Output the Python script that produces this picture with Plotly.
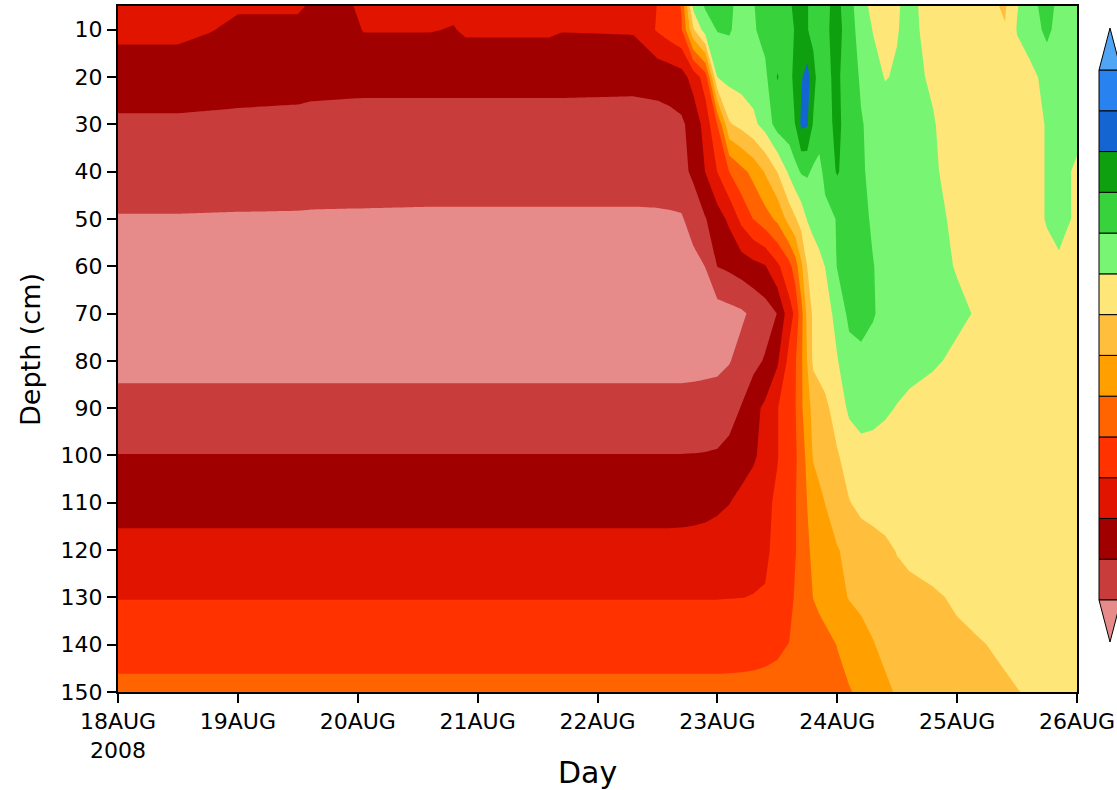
import pandas as pd
import plotly.graph_objects as go

# ---- sampling grid -------------------------------------------------------
# time of each profile, in days after 18 Aug 2008 00Z
day_offsets = [0.0, 0.5, 0.75, 1.0, 1.5, 1.6, 1.95, 2.05, 2.6, 2.8, 2.9, 3.6, 3.7, 4.3,
               4.5, 4.6, 4.7, 4.8, 4.9, 5.0, 5.1, 5.2, 5.3, 5.4, 5.5, 5.6, 5.65, 5.7, 5.75,
               5.8, 5.85, 5.9, 6.0, 6.1, 6.2, 6.3, 6.4, 6.5, 6.6, 6.8, 7.0, 7.2, 7.4, 7.5,
               7.6, 7.75, 7.85, 8.0]

depths = [5, 10, 20, 30, 40, 50, 60, 70, 80, 90, 100, 110, 120, 130, 140, 150]

# ---- field values (shading class units), one list per depth -------------
d005 = [3.5, 3.5, 3.4, 3.08, 3.08, 2.95, 2.95, 3.3, 3.3, 3.2, 3.4, 3.4, 3.3, 3.4,
        4.02, 4.5, 5.05, 9.3, 10.1, 10.4, 10.2, 9.6, 9.95, 10.4, 10.6, 10.9, 11.15, 11.4, 11.05,
        10.7, 10.75, 10.8, 11.3, 10.3, 9.5, 8.6, 8.7, 8.9, 9.3, 8.5, 8.4, 8.3, 7.9, 8.95,
        9.4, 10.6, 9.6, 9.5]
d010 = [3.23, 3.23, 3.05, 2.85, 2.85, 2.75, 2.75, 3.05, 3.05, 2.95, 3.15, 3.15, 3.05, 3.1,
        4.1, 4.5, 4.9, 7.9, 9.5, 10.05, 10.1, 9.6, 9.9, 10.3, 10.5, 10.8, 11.05, 11.3, 11.05,
        10.7, 10.75, 10.8, 11.4, 10.4, 9.6, 8.95, 8.7, 8.95, 9.3, 8.6, 8.4, 8.35, 8.05, 9.05,
        9.3, 10.3, 9.5, 9.2]
d020 = [2.5, 2.5, 2.45, 2.38, 2.35, 2.3, 2.25, 2.24, 2.24, 2.24, 2.24, 2.24, 2.24, 2.22,
        2.3, 2.4, 2.6, 3.4, 4.5, 9.02, 9.3, 9.4, 9.5, 9.8, 11.05, 10.6, 11.4, 11.9, 12.4,
        11.4, 10.5, 10.8, 11.2, 10.4, 9.9, 9.4, 8.95, 9.1, 9.2, 8.9, 8.5, 8.4, 8.5, 8.6,
        8.8, 9.2, 9.4, 9.3]
d030 = [1.85, 1.85, 1.82, 1.8, 1.75, 1.72, 1.7, 1.7, 1.7, 1.7, 1.7, 1.7, 1.7, 1.68,
        1.7, 1.75, 1.85, 2.35, 3.4, 5.02, 7.9, 8.3, 8.75, 9.4, 10.4, 10.6, 11.02, 12.2, 12.1,
        10.9, 10.5, 10.7, 11.2, 10.6, 10.05, 9.8, 9.5, 9.3, 9.2, 9.05, 8.6, 8.4, 8.4, 8.5,
        8.7, 9.05, 9.3, 9.2]
d040 = [1.42, 1.42, 1.41, 1.4, 1.38, 1.37, 1.36, 1.35, 1.35, 1.35, 1.35, 1.35, 1.35, 1.35,
        1.4, 1.5, 1.7, 2.2, 3.02, 4.02, 5.02, 5.7, 6.3, 7.1, 8.02, 9.2, 9.7, 10.1, 10.15,
        9.85, 9.7, 10.3, 11.1, 10.5, 10.1, 9.8, 9.6, 9.4, 9.3, 9.1, 8.7, 8.4, 8.4, 8.5,
        8.7, 9.05, 9.2, 8.9]
d050 = [0.95, 0.95, 0.94, 0.93, 0.92, 0.91, 0.9, 0.9, 0.88, 0.88, 0.88, 0.88, 0.88, 0.88,
        0.88, 0.88, 0.9, 1.4, 1.95, 2.55, 3.2, 4.25, 5.02, 5.6, 6.2, 7.4, 7.9, 8.4, 9.05,
        9.35, 9.55, 9.7, 10.05, 10.3, 10.2, 9.9, 9.7, 9.5, 9.4, 9.2, 8.85, 8.5, 8.4, 8.5,
        8.7, 9.05, 9.2, 8.9]
d060 = [0.6, 0.6, 0.6, 0.6, 0.6, 0.6, 0.6, 0.6, 0.6, 0.6, 0.6, 0.6, 0.6, 0.6,
        0.6, 0.6, 0.62, 0.7, 1.02, 2.02, 2.2, 2.45, 2.7, 2.95, 3.8, 4.7, 5.5, 6.8, 8.02,
        8.4, 8.7, 9.02, 10.05, 10.2, 10.2, 10.02, 9.8, 9.6, 9.45, 9.25, 8.95, 8.6, 8.5, 8.5,
        8.6, 8.8, 8.9, 8.7]
d070 = [0.4, 0.4, 0.4, 0.4, 0.4, 0.4, 0.4, 0.4, 0.4, 0.4, 0.4, 0.4, 0.4, 0.4,
        0.4, 0.4, 0.4, 0.42, 0.45, 0.55, 0.7, 0.85, 1.2, 1.55, 2.02, 3.6, 4.2, 5.6, 7.3,
        8.2, 8.4, 8.6, 9.3, 10.25, 10.3, 10.05, 9.8, 9.6, 9.5, 9.35, 9.15, 8.9, 8.6, 8.5,
        8.5, 8.6, 8.6, 8.5]
d080 = [0.7, 0.7, 0.7, 0.7, 0.7, 0.7, 0.7, 0.7, 0.7, 0.7, 0.7, 0.7, 0.7, 0.7,
        0.7, 0.7, 0.7, 0.72, 0.75, 0.8, 0.95, 1.3, 1.7, 2.1, 2.85, 4.3, 4.9, 5.8, 7.02,
        8.2, 8.4, 8.55, 8.95, 9.6, 9.8, 9.75, 9.6, 9.45, 9.3, 9.1, 8.85, 8.65, 8.55, 8.5,
        8.5, 8.5, 8.5, 8.5]
d090 = [1.33, 1.33, 1.33, 1.33, 1.33, 1.33, 1.33, 1.33, 1.33, 1.33, 1.33, 1.33, 1.33, 1.33,
        1.33, 1.33, 1.33, 1.35, 1.38, 1.4, 1.6, 2.05, 2.7, 3.2, 3.95, 4.6, 4.95, 5.8, 6.75,
        7.2, 7.5, 7.75, 8.5, 9.15, 9.35, 9.3, 9.15, 8.95, 8.8, 8.65, 8.5, 8.45, 8.4, 8.4,
        8.4, 8.4, 8.4, 8.4]
d100 = [2.02, 2.02, 2.02, 2.02, 2.02, 2.02, 2.02, 2.02, 2.02, 2.02, 2.02, 2.02, 2.02, 2.02,
        2.02, 2.02, 2.02, 2.03, 2.05, 2.1, 2.3, 2.55, 2.85, 3.35, 3.95, 4.55, 4.85, 5.45, 6.3,
        7.1, 7.4, 7.6, 7.9, 8.5, 8.7, 8.65, 8.55, 8.5, 8.45, 8.45, 8.45, 8.45, 8.45, 8.45,
        8.45, 8.45, 8.45, 8.45]
d110 = [2.65, 2.65, 2.65, 2.65, 2.65, 2.65, 2.65, 2.65, 2.65, 2.65, 2.65, 2.65, 2.65, 2.65,
        2.65, 2.65, 2.67, 2.7, 2.75, 2.85, 2.98, 3.25, 3.5, 3.8, 4.15, 4.7, 4.95, 5.35, 6.02,
        6.4, 6.7, 7.02, 7.45, 7.95, 8.3, 8.4, 8.45, 8.45, 8.45, 8.45, 8.45, 8.45, 8.45, 8.45,
        8.45, 8.45, 8.45, 8.45]
d120 = [3.3, 3.3, 3.3, 3.3, 3.3, 3.3, 3.3, 3.3, 3.3, 3.3, 3.3, 3.3, 3.3, 3.3,
        3.3, 3.3, 3.3, 3.32, 3.35, 3.4, 3.5, 3.65, 3.75, 3.88, 4.2, 4.7, 4.95, 5.3, 5.85,
        6.2, 6.4, 6.55, 6.95, 7.2, 7.4, 7.6, 7.8, 8.05, 8.2, 8.35, 8.4, 8.4, 8.4, 8.4,
        8.4, 8.4, 8.4, 8.4]
d130 = [3.97, 3.97, 3.97, 3.97, 3.97, 3.97, 3.97, 3.97, 3.97, 3.97, 3.97, 3.97, 3.97, 3.97,
        3.97, 3.97, 3.97, 3.97, 3.97, 3.97, 3.98, 3.99, 4.02, 4.05, 4.2, 4.7, 5.1, 5.35, 5.6,
        6.02, 6.2, 6.35, 6.7, 7.05, 7.25, 7.4, 7.55, 7.65, 7.75, 7.9, 8.1, 8.25, 8.35, 8.4,
        8.4, 8.4, 8.4, 8.4]
d140 = [4.6, 4.6, 4.6, 4.6, 4.6, 4.6, 4.6, 4.6, 4.6, 4.6, 4.6, 4.6, 4.6, 4.6,
        4.6, 4.6, 4.6, 4.6, 4.6, 4.6, 4.62, 4.65, 4.7, 4.78, 4.88, 5.02, 5.15, 5.28, 5.4,
        5.5, 5.62, 5.75, 6.02, 6.3, 6.6, 6.95, 7.25, 7.4, 7.5, 7.7, 7.85, 7.97, 8.1, 8.2,
        8.25, 8.3, 8.35, 8.4]
d150 = [5.25, 5.25, 5.25, 5.25, 5.25, 5.25, 5.25, 5.25, 5.25, 5.25, 5.25, 5.25, 5.25, 5.25,
        5.25, 5.25, 5.25, 5.25, 5.25, 5.25, 5.25, 5.25, 5.25, 5.25, 5.25, 5.3, 5.35, 5.4, 5.45,
        5.55, 5.6, 5.7, 5.8, 5.95, 6.15, 6.5, 6.8, 7.1, 7.3, 7.5, 7.65, 7.8, 7.92, 7.98,
        8.05, 8.15, 8.2, 8.3]

field = [d005, d010, d020, d030, d040, d050, d060, d070, d080, d090,
         d100, d110, d120, d130, d140, d150]

# ---- shading palette (lowest class first) -------------------------------
shade_colors = ["#e68a8a", "#c83c3c", "#a00000", "#e11400", "#ff3200", "#ff6400",
                "#ffa000", "#ffbe3c", "#ffe678", "#78f573", "#37d23c", "#0fa00f",
                "#1464d2", "#2882f0", "#50a5f5"]

# ---- axis ticks ----------------------------------------------------------
day_ticks = ["2008-08-18", "2008-08-19", "2008-08-20", "2008-08-21", "2008-08-22",
             "2008-08-23", "2008-08-24", "2008-08-25", "2008-08-26"]
day_labels = ["18AUG<br>2008", "19AUG", "20AUG", "21AUG", "22AUG",
              "23AUG", "24AUG", "25AUG", "26AUG"]
depth_ticks = [10, 20, 30, 40, 50, 60, 70, 80, 90, 100, 110, 120, 130, 140, 150]

times = pd.Timestamp("2008-08-18") + pd.to_timedelta(day_offsets, unit="D")

n_cls = len(shade_colors) - 1
colorscale = [[i / n_cls, c] for i, c in enumerate(shade_colors)]

fig = go.Figure()
fig.add_trace(go.Contour(
    x=times, y=depths, z=field,
    autocontour=False,
    contours=dict(start=1, end=14, size=1, coloring="fill", showlines=False),
    line=dict(width=0, smoothing=0),
    colorscale=colorscale, showscale=False, hoverinfo="skip",
))

# ---- page geometry (pixels) ----------------------------------------------
W, H = 1117, 790
L, R, T, B = 118, 1077, 6, 692


def px(x):
    return (x - L) / (R - L)


def py(y):
    return (B - y) / (B - T)


# ---- colour key drawn at the right edge ----------------------------------
shapes = []
kx0, kx1 = 1099, 1121
kmid = (kx0 + kx1) / 2
k_top, k_bot = 70, 600
step = (k_bot - k_top) / 13
for i in range(1, 14):
    yb = k_bot - (i - 1) * step
    yt = yb - step
    shapes.append(dict(type="rect", xref="paper", yref="paper",
                       x0=px(kx0), x1=px(kx1), y0=py(yb), y1=py(yt),
                       fillcolor=shade_colors[i], line=dict(color="black", width=1)))
# end triangles
shapes.append(dict(type="path", xref="paper", yref="paper",
                   path=f"M {px(kx0)},{py(k_top)} L {px(kmid)},{py(28)} L {px(kx1)},{py(k_top)} Z",
                   fillcolor=shade_colors[14], line=dict(color="black", width=1)))
shapes.append(dict(type="path", xref="paper", yref="paper",
                   path=f"M {px(kx0)},{py(k_bot)} L {px(kmid)},{py(642)} L {px(kx1)},{py(k_bot)} Z",
                   fillcolor=shade_colors[0], line=dict(color="black", width=1)))

font_main = "DejaVu Sans"
fig.update_layout(
    width=W, height=H,
    margin=dict(l=L, r=W - R, t=T, b=H - B, autoexpand=False),
    paper_bgcolor="white", plot_bgcolor="white",
    showlegend=False,
    shapes=shapes,
    font=dict(family=font_main, color="black"),
    xaxis=dict(range=["2008-08-18", "2008-08-26"], tickmode="array",
               tickvals=day_ticks, ticktext=day_labels,
               ticks="outside", ticklen=9, tickwidth=1.5, tickcolor="black",
               tickfont=dict(size=22, family=font_main, color="black"),
               showline=True, linecolor="black", linewidth=2, mirror=True,
               showgrid=False, zeroline=False, tickangle=0),
    yaxis=dict(range=[150, 5], tickmode="array", tickvals=depth_ticks,
               ticktext=[str(v) for v in depth_ticks],
               ticks="outside", ticklen=9, tickwidth=1.5, tickcolor="black",
               tickfont=dict(size=22, family=font_main, color="black"),
               showline=True, linecolor="black", linewidth=2, mirror=True,
               showgrid=False, zeroline=False),
    annotations=[
        dict(text="Depth (cm)", xref="paper", yref="paper", x=px(30), y=py(350),
             textangle=-90, showarrow=False, xanchor="center", yanchor="middle",
             font=dict(size=27, family=font_main, color="black")),
        dict(text="Day", xref="paper", yref="paper", x=px(587), y=py(772),
             showarrow=False, xanchor="center", yanchor="middle",
             font=dict(size=30, family=font_main, color="black")),
    ],
)

fig.write_html("out.html")
